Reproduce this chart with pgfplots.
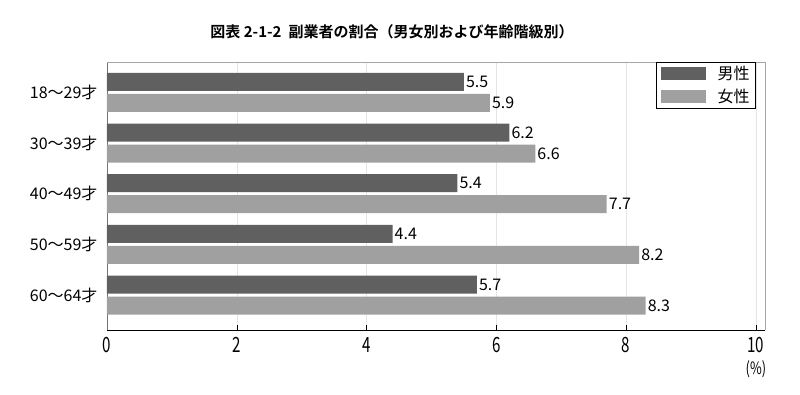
\documentclass[border=0pt]{standalone}
\usepackage{pgfplots}
\pgfplotsset{compat=1.18}
\usepackage{fontspec}
\setmainfont{Noto Sans CJK JP}
\newfontfamily\titlefont{Noto Sans CJK JP Bold}
\definecolor{male}{HTML}{606060}
\definecolor{female}{HTML}{A0A0A0}
\pgfkeys{/pgf/number format/assume math mode=true}
\begin{document}
\begin{tikzpicture}[x=1pt,y=1pt]
\useasboundingbox (0,0) rectangle (800,395);
\node[font=\titlefont\fontsize{15}{17}\selectfont] at (392,363) {図表 2-1-2\hspace{7pt}副業者の割合（男女別および年齢階級別）};
\begin{axis}[
  /pgf/number format/assume math mode=true,
  at={(107pt,65pt)}, anchor=south west,
  scale only axis, width=658pt, height=268pt,
  xbar, bar width=18pt,
  xmin=0, xmax=10.14,
  ymin=-0.6, ymax=4.69, y dir=reverse,
  ytick={0,1,2,3,4},
  yticklabels={18～29才,30～39才,40～49才,50～59才,60～64才},
  xtick={0,2,4,6,8,10},
  xticklabel={\scalebox{0.72}[1]{\pgfmathprintnumber[assume math mode=true]{\tick}}},
  axis x line*=bottom, axis y line*=left,
  x axis line style={black, -},
  y axis line style={draw=gray!110, -},
  major tick length=5pt,
  xtick style={black, thin},
  ytick style={draw=none},
  xmajorgrids, grid style={gray!20},
  tick label style={font=\fontsize{16}{18}\selectfont},
  x tick label style={font=\fontsize{21}{23}\selectfont, yshift=-4pt},
  y tick label style={xshift=-1pt},
  nodes near coords={\pgfmathprintnumber[fixed,precision=1,fixed zerofill,assume math mode=true]{\pgfplotspointmeta}},
  nodes near coords style={font=\fontsize{16}{18}\selectfont, inner xsep=2pt},
  legend style={at={(rel axis cs:0.835,1)}, anchor=north west, draw=black, font=\fontsize{16}{18}\selectfont, inner xsep=4pt, inner ysep=2pt, row sep=4pt, legend cell align=left},
  legend image code/.code={\fill[#1] (0pt,-6.5pt) rectangle (45pt,7pt); \path (55pt,0pt);},
  clip=false,
]
\addplot[fill=male, draw=none, bar shift=10.5pt] coordinates {(5.5,0) (6.2,1) (5.4,2) (4.4,3) (5.7,4)};
\addplot[fill=female, draw=none, bar shift=-10.5pt] coordinates {(5.9,0) (6.6,1) (7.7,2) (8.2,3) (8.3,4)};
\legend{男性,女性}
\draw[gray!70] (rel axis cs:0,1) -- (rel axis cs:1,1) -- (rel axis cs:1,0);
\node[font=\fontsize{17}{19}\selectfont, anchor=north] at (axis cs:10,4.69) [yshift=-27pt] {\scalebox{0.75}[1]{(\%)}};
\end{axis}
\end{tikzpicture}
\end{document}
